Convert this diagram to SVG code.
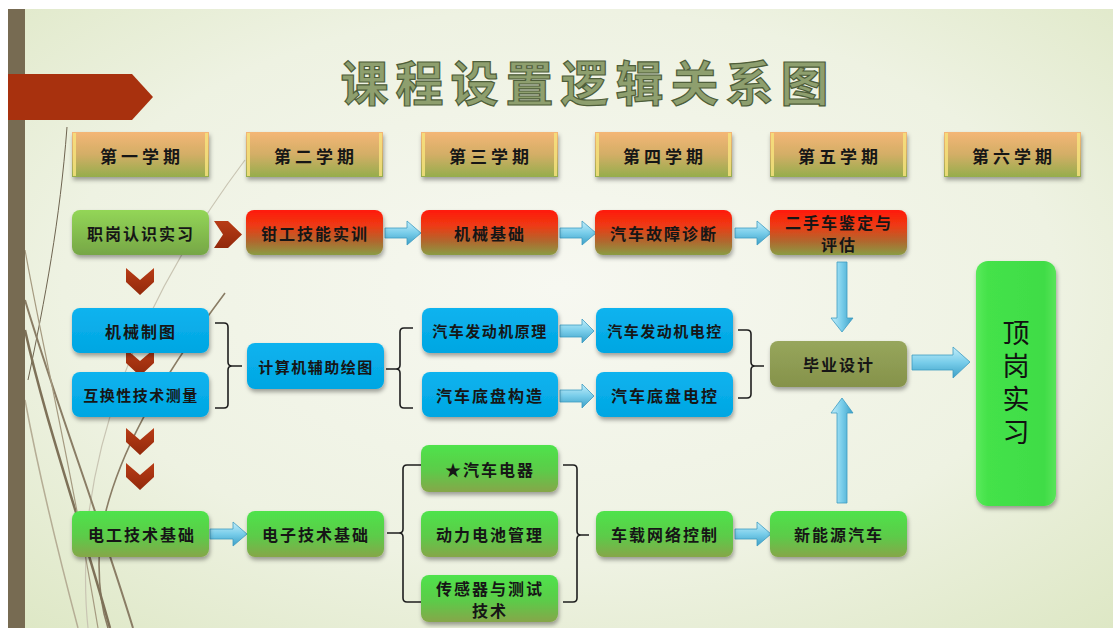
<svg xmlns="http://www.w3.org/2000/svg" width="1113" height="628" viewBox="0 0 1113 628">
<defs>
<radialGradient id="bg" cx="0.5" cy="0.45" r="0.75">
<stop offset="0" stop-color="#F7F8F1"/><stop offset="0.6" stop-color="#EEF2E2"/><stop offset="1" stop-color="#DDE7C4"/>
</radialGradient>
<linearGradient id="gHead" x1="0" y1="0" x2="0" y2="1"><stop offset="0" stop-color="#F4B676"/><stop offset="0.5" stop-color="#D3AE66"/><stop offset="1" stop-color="#95AD4C"/></linearGradient>
<linearGradient id="gRed" x1="0" y1="0" x2="0" y2="1"><stop offset="0" stop-color="#FF1A0A"/><stop offset="0.35" stop-color="#EE3A14"/><stop offset="0.7" stop-color="#B0682E"/><stop offset="1" stop-color="#8A9C44"/></linearGradient>
<linearGradient id="gGreen1" x1="0" y1="0" x2="0" y2="1"><stop offset="0" stop-color="#93D657"/><stop offset="1" stop-color="#76A646"/></linearGradient>
<linearGradient id="gGreen2" x1="0" y1="0" x2="0" y2="1"><stop offset="0" stop-color="#4EE34C"/><stop offset="0.55" stop-color="#5CCB48"/><stop offset="1" stop-color="#86A648"/></linearGradient>
<linearGradient id="gBlue" x1="0" y1="0" x2="0" y2="1"><stop offset="0" stop-color="#0CB3EF"/><stop offset="1" stop-color="#02A6E2"/></linearGradient>
<linearGradient id="gOlive" x1="0" y1="0" x2="0" y2="1"><stop offset="0" stop-color="#97A65C"/><stop offset="1" stop-color="#85924A"/></linearGradient>
<linearGradient id="gBright" x1="0" y1="0" x2="1" y2="0"><stop offset="0" stop-color="#5AEA5A"/><stop offset="0.15" stop-color="#44E24A"/><stop offset="0.85" stop-color="#40DC46"/><stop offset="1" stop-color="#58E45A"/></linearGradient>
<linearGradient id="gArr" x1="0" y1="0" x2="0" y2="1"><stop offset="0" stop-color="#C4EEFA"/><stop offset="0.5" stop-color="#78CDEA"/><stop offset="1" stop-color="#3C9FC6"/></linearGradient>
<linearGradient id="gArrV" x1="0" y1="0" x2="1" y2="0"><stop offset="0" stop-color="#C4EEFA"/><stop offset="0.5" stop-color="#78CDEA"/><stop offset="1" stop-color="#3C9FC6"/></linearGradient>
<linearGradient id="gChev" x1="0" y1="0" x2="0" y2="1"><stop offset="0" stop-color="#B83C16"/><stop offset="1" stop-color="#92290B"/></linearGradient>
<filter id="sh" x="-10%" y="-20%" width="120%" height="150%"><feDropShadow dx="1" dy="3" stdDeviation="2" flood-color="#000" flood-opacity="0.35"/></filter>
</defs>
<style>
.t{font-family:"Noto Sans CJK SC","Liberation Sans",sans-serif;font-weight:bold;fill:#161616;text-anchor:middle;dominant-baseline:central;}
.n16{font-size:16px;letter-spacing:2px;}
.n15{font-size:15px;letter-spacing:1.5px;}
.hd{font-size:17px;letter-spacing:4px;}
.edge{fill:#F6E27C;opacity:0.85;}
.br{fill:none;stroke:#1E1E1E;stroke-width:1.6;}
.arr{fill:url(#gArr);stroke:#3E9CC2;stroke-width:0.8;}
.arrv{fill:url(#gArrV);stroke:#3E9CC2;stroke-width:0.8;}
.chev{fill:url(#gChev);}
.wisp{fill:none;}
</style>
<rect x="0" y="0" width="1113" height="628" fill="#FFFFFF"/>
<rect x="8" y="9" width="1105" height="619" fill="url(#bg)"/>
<g id="decor">
<path class="wisp" d="M67,127 C60,220 45,300 28,380" stroke="#6E6450" stroke-width="1"/>
<path class="wisp" d="M245,160 C170,260 105,380 88,520 C84,570 85,600 88,628" stroke="#C9C5B3" stroke-width="1.2"/>
<path class="wisp" d="M225,293 C160,380 112,460 100,540 C97,580 102,610 108,628" stroke="#8A7D65" stroke-width="1.6"/>
<path class="wisp" d="M25,330 C45,420 80,520 110,628" stroke="#7E7158" stroke-width="2.5"/>
<path class="wisp" d="M25,300 C55,400 100,520 133,628" stroke="#8A7D65" stroke-width="2"/>
<path class="wisp" d="M25,400 C40,480 60,560 78,628" stroke="#B5AD95" stroke-width="1.5"/>
<path class="wisp" d="M25,250 C45,360 70,460 98,628" stroke="#A59A80" stroke-width="1.2"/>
<rect x="8" y="9" width="17" height="619" fill="#776B52"/>
<polygon points="8,74 132,74 153,97 132,120 8,120" fill="#A8310E"/>
</g>
<g id="title"><text x="588" y="80" style="font-family:'Noto Sans CJK SC',sans-serif;font-weight:bold;font-size:48px;letter-spacing:7px;fill:#8E9F6E;stroke:#4E5E3A;stroke-width:1.2;text-anchor:middle;dominant-baseline:central">课程设置逻辑关系图</text></g>

<g id="connectors">
<polygon class="chev" points="214,221 228,221 242,234.5 228,248 214,248 223,234.5"/>
<polygon class="chev" points="126,268 140,280 154,268 154,282 140,295 126,282"/>
<polygon class="chev" points="126,349 140,361 154,349 154,363 140,376 126,363"/>
<polygon class="chev" points="126,428 140,440 154,428 154,442 140,455 126,442"/>
<polygon class="chev" points="126,463 140,475 154,463 154,477 140,490 126,477"/>
<polygon class="arr" points="385,228 407,228 407,221 421,233 407,245 407,238 385,238"/>
<polygon class="arr" points="560,228 582,228 582,221 596,233 582,245 582,238 560,238"/>
<polygon class="arr" points="735,228 757,228 757,221 771,233 757,245 757,238 735,238"/>
<polygon class="arr" points="560,325 582,325 582,319 594,331 582,343 582,337 560,337"/>
<polygon class="arr" points="560,390 582,390 582,384 594,396 582,408 582,402 560,402"/>
<polygon class="arr" points="210,529 233,529 233,522 247,534 233,546 233,539 210,539"/>
<polygon class="arr" points="735,529 757,529 757,522 771,534 757,546 757,539 735,539"/>
<polygon class="arr" points="912,355 953,355 953,347 970,362 953,378 953,370 912,370"/>
<polygon class="arrv" points="837,262 847,262 847,318 853,318 842,332 831,318 837,318"/>
<polygon class="arrv" points="837,503 847,503 847,413 853,413 842,398 831,413 837,413"/>
<path class="br" d="M215,323 H224 Q228,323 228,327 V362 Q228,366 232,366 H242 M232,366 Q228,366 228,370 V404 Q228,408 224,408 H215"/>
<path class="br" d="M413,328 H404 Q400,328 400,332 V365 Q400,369 396,369 H386 M396,369 Q400,369 400,373 V404 Q400,408 404,408 H413"/>
<path class="br" d="M738,330 H747 Q751,330 751,334 V362 Q751,366 755,366 H764 M755,366 Q751,366 751,370 V394 Q751,398 747,398 H738"/>
<path class="br" d="M422,465 H407 Q403,465 403,469 V529 Q403,533 399,533 H387 M399,533 Q403,533 403,537 V598 Q403,602 407,602 H422"/>
<path class="br" d="M563,465 H573 Q577,465 577,469 V531 Q577,535 581,535 H589 M581,535 Q577,535 577,539 V598 Q577,602 573,602 H563"/>
</g>

<g id="h1"><rect x="72" y="132" width="137" height="45" fill="url(#gHead)" filter="url(#sh)"/><rect class="edge" x="73" y="133" width="3" height="43"/><rect class="edge" x="205" y="133" width="3" height="43"/><text class="t hd" x="142" y="155">第一学期</text></g>
<g id="h2"><rect x="246" y="132" width="137" height="45" fill="url(#gHead)" filter="url(#sh)"/><rect class="edge" x="247" y="133" width="3" height="43"/><rect class="edge" x="379" y="133" width="3" height="43"/><text class="t hd" x="316" y="155">第二学期</text></g>
<g id="h3"><rect x="421" y="132" width="137" height="45" fill="url(#gHead)" filter="url(#sh)"/><rect class="edge" x="422" y="133" width="3" height="43"/><rect class="edge" x="554" y="133" width="3" height="43"/><text class="t hd" x="491" y="155">第三学期</text></g>
<g id="h4"><rect x="595" y="132" width="137" height="45" fill="url(#gHead)" filter="url(#sh)"/><rect class="edge" x="596" y="133" width="3" height="43"/><rect class="edge" x="728" y="133" width="3" height="43"/><text class="t hd" x="665" y="155">第四学期</text></g>
<g id="h5"><rect x="770" y="132" width="137" height="45" fill="url(#gHead)" filter="url(#sh)"/><rect class="edge" x="771" y="133" width="3" height="43"/><rect class="edge" x="903" y="133" width="3" height="43"/><text class="t hd" x="840" y="155">第五学期</text></g>
<g id="h6"><rect x="944" y="132" width="137" height="45" fill="url(#gHead)" filter="url(#sh)"/><rect class="edge" x="945" y="133" width="3" height="43"/><rect class="edge" x="1077" y="133" width="3" height="43"/><text class="t hd" x="1014" y="155">第六学期</text></g>

<g id="n_zgrs"><rect x="72" y="210" width="137" height="45" rx="8" fill="url(#gGreen1)" filter="url(#sh)"/><text class="t n16" x="141" y="232.5">职岗认识实习</text></g>
<g id="n_qgjn"><rect x="246" y="210" width="137" height="45" rx="8" fill="url(#gRed)" filter="url(#sh)"/><text class="t n16" x="315" y="232.5">钳工技能实训</text></g>
<g id="n_jxjc"><rect x="421" y="210" width="137" height="45" rx="8" fill="url(#gRed)" filter="url(#sh)"/><text class="t n16" x="490" y="232.5">机械基础</text></g>
<g id="n_qcgz"><rect x="595" y="210" width="137" height="45" rx="8" fill="url(#gRed)" filter="url(#sh)"/><text class="t n16" x="664" y="232.5">汽车故障诊断</text></g>
<g id="n_esc"><rect x="770" y="210" width="137" height="45" rx="8" fill="url(#gRed)" filter="url(#sh)"/><text class="t n16"><tspan x="839" y="222">二手车鉴定与</tspan><tspan x="839" y="244">评估</tspan></text></g>

<g id="n_jxzt"><rect x="72" y="308" width="137" height="45" rx="8" fill="url(#gBlue)" filter="url(#sh)"/><text class="t n16" x="141" y="330.5">机械制图</text></g>
<g id="n_hhx"><rect x="72" y="372" width="137" height="45" rx="8" fill="url(#gBlue)" filter="url(#sh)"/><text class="t n15" x="141" y="394.5">互换性技术测量</text></g>
<g id="n_jsj"><rect x="247" y="343" width="137" height="46" rx="8" fill="url(#gBlue)" filter="url(#sh)"/><text class="t n15" x="316" y="366">计算机辅助绘图</text></g>
<g id="n_fdjyl"><rect x="422" y="308" width="136" height="45" rx="8" fill="url(#gBlue)" filter="url(#sh)"/><text class="t n15" x="490" y="330.5">汽车发动机原理</text></g>
<g id="n_dpgz"><rect x="422" y="372" width="136" height="45" rx="8" fill="url(#gBlue)" filter="url(#sh)"/><text class="t n16" x="490" y="394.5">汽车底盘构造</text></g>
<g id="n_fdjdk"><rect x="596" y="308" width="137" height="45" rx="8" fill="url(#gBlue)" filter="url(#sh)"/><text class="t n15" x="665" y="330.5">汽车发动机电控</text></g>
<g id="n_dpdk"><rect x="596" y="372" width="137" height="45" rx="8" fill="url(#gBlue)" filter="url(#sh)"/><text class="t n16" x="665" y="394.5">汽车底盘电控</text></g>
<g id="n_bysj"><rect x="770" y="341" width="137" height="46" rx="8" fill="url(#gOlive)" filter="url(#sh)"/><text class="t n16" x="839" y="364">毕业设计</text></g>
<g id="n_dgsx"><rect x="976" y="261" width="80" height="245" rx="12" fill="url(#gBright)" filter="url(#sh)"/><text x="1016" y="319" style="font-family:'Noto Sans CJK SC',sans-serif;font-size:27px;letter-spacing:6px;fill:#111;writing-mode:vertical-rl;text-orientation:upright">顶岗实习</text></g>

<g id="n_dgjs"><rect x="72" y="511" width="137" height="46" rx="8" fill="url(#gGreen2)" filter="url(#sh)"/><text class="t n16" x="142" y="534">电工技术基础</text></g>
<g id="n_dzjs"><rect x="247" y="511" width="137" height="46" rx="8" fill="url(#gGreen2)" filter="url(#sh)"/><text class="t n16" x="316" y="534">电子技术基础</text></g>
<g id="n_qcdq"><rect x="421" y="445" width="137" height="47" rx="8" fill="url(#gGreen2)" filter="url(#sh)"/><text class="t n16" x="490" y="468.5">★汽车电器</text></g>
<g id="n_dldc"><rect x="421" y="511" width="137" height="46" rx="8" fill="url(#gGreen2)" filter="url(#sh)"/><text class="t n16" x="490" y="534">动力电池管理</text></g>
<g id="n_cgq"><rect x="421" y="575" width="137" height="47" rx="8" fill="url(#gGreen2)" filter="url(#sh)"/><text class="t n16"><tspan x="490" y="588">传感器与测试</tspan><tspan x="490" y="610">技术</tspan></text></g>
<g id="n_czwl"><rect x="596" y="511" width="137" height="46" rx="8" fill="url(#gGreen2)" filter="url(#sh)"/><text class="t n16" x="665" y="534">车载网络控制</text></g>
<g id="n_xny"><rect x="770" y="511" width="137" height="46" rx="8" fill="url(#gGreen2)" filter="url(#sh)"/><text class="t n16" x="839" y="534">新能源汽车</text></g>
</svg>
